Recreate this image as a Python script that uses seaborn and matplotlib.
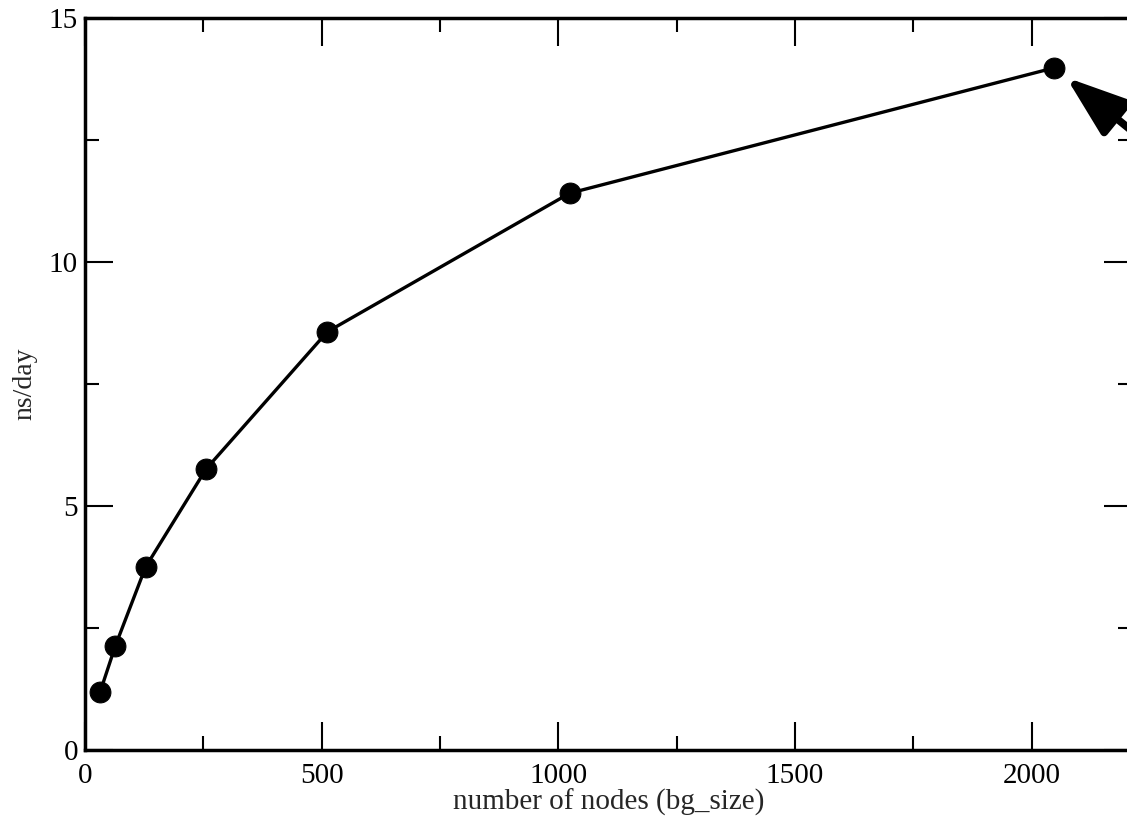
import matplotlib
matplotlib.use("Agg")
import matplotlib.pyplot as plt
import seaborn as sns
import pandas as pd
from matplotlib.ticker import MultipleLocator

nodes = [32, 64, 128, 256, 512, 1024, 2048]
ns_per_day = [1.19, 2.13, 3.75, 5.76, 8.57, 11.41, 13.98]

x_label = "number of nodes (bg_size)"
y_label = "ns/day"

sns.set_theme(style="ticks")
plt.rcParams["font.family"] = ["Liberation Serif", "DejaVu Serif"]

df = pd.DataFrame({"nodes": nodes, "ns_per_day": ns_per_day})

fig = plt.figure(figsize=(11.27, 8.21), dpi=100)
ax = fig.add_axes([85 / 1127, 71 / 821, (1132 - 85) / 1127, (750 - 18) / 821])

sns.lineplot(data=df, x="nodes", y="ns_per_day", ax=ax, color="black",
             linewidth=2.4, marker="o", markersize=15, markeredgecolor="black",
             markerfacecolor="black")

ax.set_xlim(0, 2212)
ax.set_ylim(0, 15)
ax.xaxis.set_major_locator(MultipleLocator(500))
ax.xaxis.set_minor_locator(MultipleLocator(250))
ax.yaxis.set_major_locator(MultipleLocator(5))
ax.yaxis.set_minor_locator(MultipleLocator(2.5))
ax.tick_params(which="both", direction="in", top=True, right=True, width=1.5,
               colors="black", labelsize=21)
ax.tick_params(axis="x", pad=9)
ax.tick_params(axis="y", pad=5)
ax.tick_params(which="major", length=20)
ax.tick_params(which="minor", length=10)
for s in ax.spines.values():
    s.set_linewidth(2.5)
    s.set_color("black")

ax.set_xlabel(x_label, fontsize=21, labelpad=0)
ax.set_ylabel(y_label, fontsize=20, labelpad=8)

ax.annotate("", xy=(nodes[-1], ns_per_day[-1]), xytext=(2400, 11.2),
            xycoords="data", textcoords="data", annotation_clip=False,
            arrowprops=dict(arrowstyle="-|>,head_length=3.8,head_width=1.35",
                            color="black", lw=5.5, mutation_scale=10,
                            shrinkA=0, shrinkB=11))

fig.savefig("out.png", dpi=100)
